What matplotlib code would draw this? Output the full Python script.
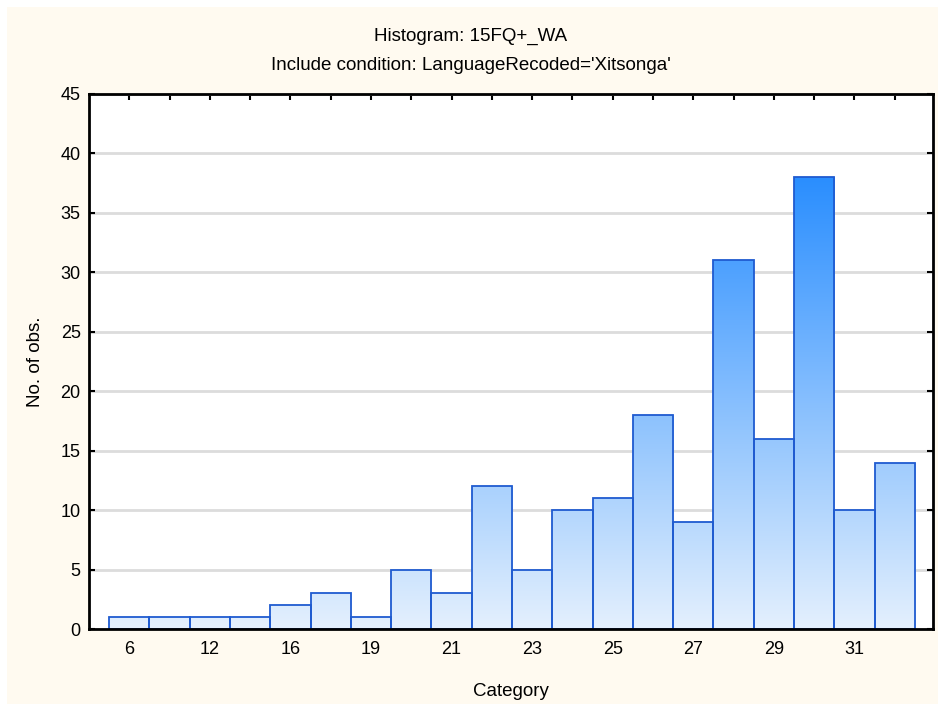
import numpy as np
import matplotlib.pyplot as plt
from matplotlib.patches import Rectangle
from matplotlib.colors import LinearSegmentedColormap

plt.rcParams['font.family'] = ['Liberation Sans', 'DejaVu Sans']

# histogram counts, one per category bin
counts = [1, 1, 1, 1, 2, 3, 1, 5, 3, 12, 5, 10, 11, 18, 9, 31, 16, 38, 10, 14]
# labels are only shown on every second bin
tick_labels = ['6', '12', '16', '19', '21', '23', '25', '27', '29', '31']

fig = plt.figure(figsize=(9.38, 7.04), dpi=100)
fig.patch.set_facecolor('white')
# cream panel behind everything
fig.patches.append(Rectangle((7 / 938, 0), 1, 1 - 7 / 704, transform=fig.transFigure,
                             facecolor='#FFFAF0', edgecolor='none', zorder=-10))

ax = fig.add_axes([89 / 938, 1 - 629 / 704, (933 - 89) / 938, (629 - 94) / 704])
ax.set_facecolor('white')

x = np.arange(len(counts))

# gradient: light at the bottom, saturated blue at the tallest bar
cmap = LinearSegmentedColormap.from_list('bl', ['#E4F0FD', '#2A8EFF'])
grad = np.linspace(0, 1, 256).reshape(-1, 1)
top = max(counts)
bars = ax.bar(x, counts, width=1.0, facecolor='none', edgecolor='#1F5BD0',
              linewidth=1.3, zorder=3)
for b in bars:
    im = ax.imshow(grad, cmap=cmap, origin='lower', aspect='auto',
                   extent=(b.get_x(), b.get_x() + b.get_width(), 0, top),
                   zorder=2, interpolation='bicubic')
    im.set_clip_path(b)
ax.set_xlim(-1.0, len(counts) - 0.05)
ax.set_ylim(0, 45)

ax.yaxis.grid(True, color='#DCDCDC', linewidth=2)
ax.set_axisbelow(True)

ax.set_yticks(np.arange(0, 46, 5))
ax.set_xticks(x)
ax.set_xticklabels([tick_labels[i // 2] if i % 2 == 0 else '' for i in x])
ax.tick_params(direction='in', top=True, right=True, length=4, width=1.5,
               labelsize=13, pad=9, colors='black')
ax.tick_params(axis='y', pad=6)
for s in ax.spines.values():
    s.set_linewidth(2)
    s.set_zorder(5)

ax.set_xlabel('Category', fontsize=13.5, labelpad=18)
ax.set_ylabel('No. of obs.', fontsize=13.5, labelpad=12)

fig.text(471 / 938, 1 - 36 / 704, 'Histogram: 15FQ+_WA', ha='center', va='center', fontsize=13.5)
fig.text(471 / 938, 1 - 65 / 704, "Include condition: LanguageRecoded='Xitsonga'",
         ha='center', va='center', fontsize=13.5)

fig.savefig('out.png', dpi=100, facecolor=fig.get_facecolor())
